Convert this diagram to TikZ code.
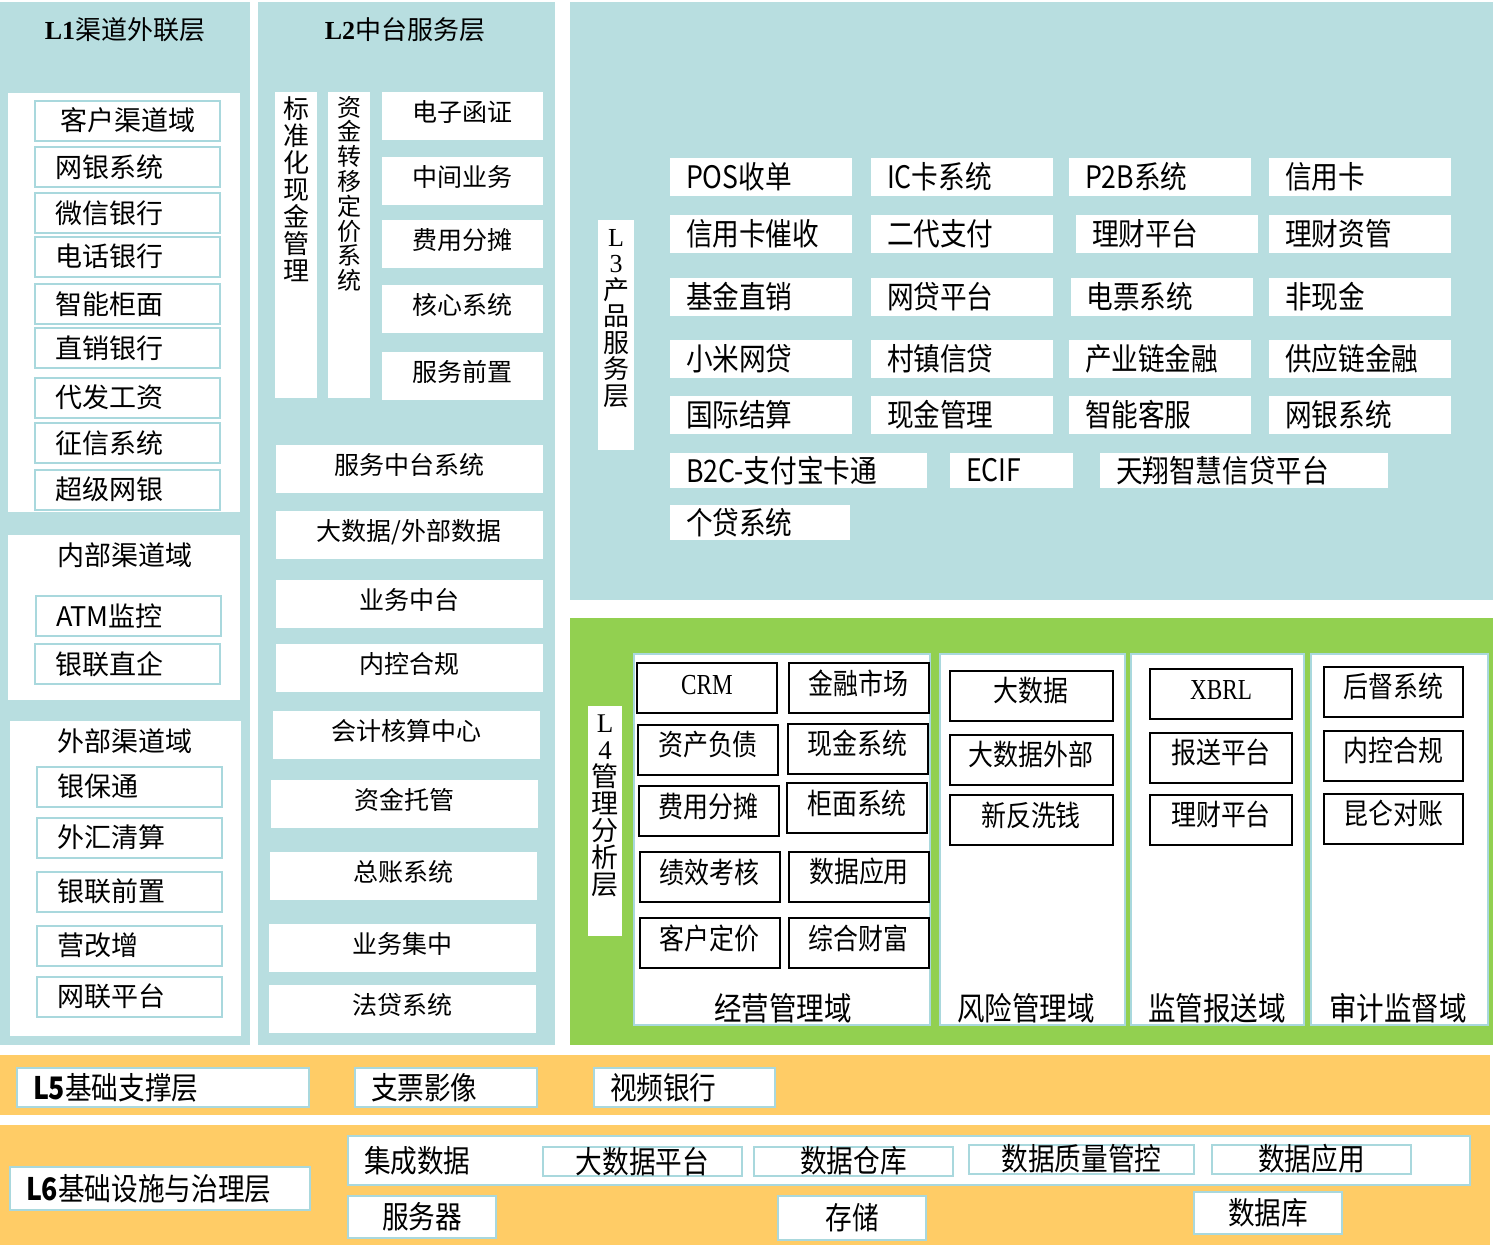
\documentclass[tikz,border=0pt]{standalone}
\usepackage{fontspec}
\setmainfont{Noto Sans CJK SC}
\newfontfamily\tnr{Liberation Serif}
\newfontfamily\tnrn[FakeStretch=0.8]{Liberation Serif}
\newfontfamily\nar[FakeStretch=0.86]{Noto Sans CJK SC}
\usepackage{tikz}

\definecolor{tealbg}{HTML}{B8DEE0}
\definecolor{tealln}{HTML}{A9D8DD}
\definecolor{grn}{HTML}{92D050}
\definecolor{org}{HTML}{FFCC66}

\newcommand{\fsz}[1]{\fontsize{#1}{#1}\selectfont}

\tikzset{
    chbox/.style={fill=white, draw=tealln, line width=2pt, inner xsep=20pt, inner ysep=0pt,
        minimum height=40pt, text width=145pt, align=left, font=\fsz{27}},
    ttl/.style={inner sep=0pt, font=\fsz{26}},
    l2box/.style={fill=white, inner sep=0pt, minimum height=48pt, text height=20pt, text depth=9pt, font=\fsz{25}},
    vbar/.style={fill=white, inner sep=0pt},
    vtxt/.style={inner sep=0pt, align=center, text width=30pt},
    pbox/.style={fill=white, inner xsep=16pt, inner ysep=0pt, minimum height=38pt, text width=#1, align=left, font=\nar\fsz{31}},
    pbox/.default=150pt,
    dom/.style={fill=white, draw=tealln, line width=2.5pt, inner sep=0pt, minimum height=371pt},
    domlab/.style={inner sep=0pt, font=\nar\fsz{32}},
    mbox/.style={fill=white, draw=black, line width=2pt, inner sep=0pt, minimum height=50pt,
        text height=24pt, text depth=12pt, font=\nar\fsz{29}},
    bbox/.style={fill=white, draw=tealln, line width=2pt, inner xsep=16pt, inner ysep=0pt,
        minimum height=39pt, text width=#1, align=left, font=\nar\fsz{31}},
    ibox/.style={fill=white, draw=tealln, line width=2pt, inner sep=0pt, minimum height=29pt, font=\nar\fsz{31}},
    sbox/.style={fill=white, draw=tealln, line width=2pt, inner sep=0pt, minimum width=148pt, minimum height=42pt, font=\nar\fsz{31}}
}

\begin{document}
\begin{tikzpicture}[x=1pt, y=-1pt]
    \useasboundingbox (0,0) rectangle (1495,1245);
    \fill[white] (0,0) rectangle (1495,1245);

    % layer panels
    \fill[tealbg] (0,2) rectangle (250,1045);
    \fill[tealbg] (258,2) rectangle (555,1045);
    \fill[tealbg] (570,2) rectangle (1493,600);
    \fill[grn] (570,618) rectangle (1493,1045);
    \fill[org] (0,1055) rectangle (1490,1115);
    \fill[org] (0,1125) rectangle (1490,1245);

    % L1
    \node[ttl] (l1) at (125,30) {{\tnr\bfseries L1}渠道外联层};
    \fill[white] (8,93) rectangle (240,512);
    \node[chbox, align=center] (khqd) at (127.5,120.5) {客户渠道域};
    \foreach [count=\i] \t/\y in {网银系统/167, 微信银行/213, 电话银行/256.5, 智能柜面/304,
        直销银行/348, 代发工资/397.5, 征信系统/443, 超级网银/489.5}
        \node[chbox] (kh\i) at (127.5,\y) {\t};

    \fill[white] (8,535) rectangle (240,700);
    \node[ttl, font=\fsz{27}] (nbqd) at (125,555) {内部渠道域};
    \node[chbox] (nb1) at (128.5,616) {ATM监控};
    \node[chbox] (nb2) at (127.5,664) {银联直企};

    \fill[white] (10,721) rectangle (241,1036);
    \node[ttl, font=\fsz{27}] (wbqd) at (125,741) {外部渠道域};
    \foreach [count=\i] \t/\y in {银保通/786.5, 外汇清算/837.5, 银联前置/891.5, 营改增/945.5, 网联平台/996.5}
        \node[chbox] (wb\i) at (129.5,\y) {\t};

    % L2
    \node[ttl] (l2) at (405,30) {{\tnr\bfseries L2}中台服务层};
    \node[vbar, minimum width=42pt, minimum height=306pt] (bzh) at (296,245) {};
    \node[vtxt, anchor=north, font=\fontsize{26}{27}\selectfont] (bzh-t) at ([yshift=-5pt]bzh.north)
        {标\\准\\化\\现\\金\\管\\理};
    \node[vbar, minimum width=42pt, minimum height=306pt] (zjzy) at (349,245) {};
    \node[vtxt, anchor=north, font=\fontsize{24}{24.8}\selectfont] (zjzy-t) at ([yshift=-4pt]zjzy.north)
        {资\\金\\转\\移\\定\\价\\系\\统};
    \foreach [count=\i] \t/\y in {电子函证/115.5, 中间业务/180.5, 费用分摊/244, 核心系统/309, 服务前置/376}
        \node[l2box, minimum width=161pt] (zt\i) at (462.5,\y) {\t};
    \foreach [count=\i] \t/\x/\y in {服务中台系统/409.5/469, {大数据/外部数据}/409/535, 业务中台/409.5/604,
        内控合规/409.5/668, 会计核算中心/406/735, 资金托管/404/804, 总账系统/403/876,
        业务集中/402/948, 法贷系统/402/1009}
        \node[l2box, minimum width=267pt] (zx\i) at (\x,\y) {\t};

    % L3
    \node[vbar, minimum width=36pt, minimum height=230pt] (l3) at (616,335) {};
    \node[vtxt, anchor=north, font=\fontsize{26}{26.5}\selectfont] (l3-t) at ([yshift=-9pt]l3.north)
        {{\tnr L}\\{\tnr 3}\\产\\品\\服\\务\\层};
    \foreach [count=\i] \t/\x/\y in {POS收单/761/177, IC卡系统/962/177, P2B系统/1160/177, 信用卡/1360/177,
        信用卡催收/761/234, 二代支付/962/234, 理财平台/1167/234, 理财资管/1360/234,
        基金直销/761/296.5, 网贷平台/962/296.5, 电票系统/1161.5/296.5, 非现金/1360/296.5,
        小米网贷/761/358.5, 村镇信贷/962/358.5, 产业链金融/1160/358.5, 供应链金融/1360/358.5,
        国际结算/761/415, 现金管理/962/415, 智能客服/1160/415, 网银系统/1360/415}
        \node[pbox] (cp\i) at (\x,\y) {\t};
    \node[pbox=225pt, minimum height=35pt] (b2c) at (798.5,470.5) {B2C-支付宝卡通};
    \node[pbox=91pt, minimum height=35pt] (ecif) at (1011.5,470.5) {ECIF};
    \node[pbox=256pt, minimum height=35pt] (txzh) at (1244,470.5) {天翔智慧信贷平台};
    \node[pbox=148pt, minimum height=35pt] (gd) at (760,522.5) {个贷系统};

    % L4
    \node[vbar, minimum width=34pt, minimum height=230pt] (l4) at (605,821) {};
    \node[vtxt, anchor=north, font=\fontsize{27}{27}\selectfont] (l4-t) at ([yshift=-9pt]l4.north)
        {{\tnr L}\\{\tnr 4}\\管\\理\\分\\析\\层};
    \node[dom, minimum width=296pt] (jy) at (782,839.5) {};
    \node[dom, minimum width=185pt] (fx) at (1032.5,839.5) {};
    \node[dom, minimum width=173pt] (jg) at (1217.5,839.5) {};
    \node[dom, minimum width=177pt] (sj) at (1399.5,839.5) {};
    \node[domlab] (jy-t) at (783,1008) {经营管理域};
    \node[domlab] (fx-t) at (1026,1008) {风险管理域};
    \node[domlab] (jg-t) at (1217,1008) {监管报送域};
    \node[domlab] (sj-t) at (1398,1008) {审计监督域};

    \foreach [count=\i] \t/\x/\y in {{\tnrn CRM}/707/688, 资产负债/708/749.5, 费用分摊/708.5/811,
        绩效考核/709.5/877, 客户定价/709.5/943}
        \node[mbox, minimum width=140pt] (jya\i) at (\x,\y) {\t};
    \foreach [count=\i] \t/\x/\y in {金融市场/858.5/688, 现金系统/857.5/748.5, 柜面系统/857/808,
        数据应用/859/876.5, 综合财富/858.5/943}
        \node[mbox, minimum width=140pt] (jyb\i) at (\x,\y) {\t};
    \foreach [count=\i] \t/\y in {大数据/695.5, 大数据外部/759.5, 新反洗钱/820}
        \node[mbox, minimum width=163pt] (fx\i) at (1031,\y) {\t};
    \foreach [count=\i] \t/\y in {{\tnrn XBRL}/693.5, 报送平台/757.5, 理财平台/819.5}
        \node[mbox, minimum width=142pt] (jg\i) at (1221,\y) {\t};
    \foreach [count=\i] \t/\y in {后督系统/691.5, 内控合规/755.5, 昆仑对账/818.5}
        \node[mbox, minimum width=139pt] (sj\i) at (1393.5,\y) {\t};

    % L5
    \node[bbox=260pt] (l5) at (163,1087.5) {{\bfseries L5}基础支撑层};
    \node[bbox=150pt] (zpyx) at (446,1087.5) {支票影像};
    \node[bbox=149pt] (spyh) at (684.5,1087.5) {视频银行};

    % L6
    \node[bbox=268pt, minimum height=43pt] (l6) at (160,1188.5) {{\bfseries L6}基础设施与治理层};
    \node[bbox=1090pt, minimum height=49pt, inner xsep=16pt] (jcsj) at (909,1160.5) {集成数据};
    \node[ibox, minimum width=199pt] (dsjpt) at (642.5,1161.5) {大数据平台};
    \node[ibox, minimum width=199pt] (sjck) at (853.5,1161) {数据仓库};
    \node[ibox, minimum width=225pt] (sjzl) at (1081.5,1159) {数据质量管控};
    \node[ibox, minimum width=199pt] (sjyy) at (1311.5,1159) {数据应用};
    \node[sbox] (fwq) at (422,1217) {服务器};
    \node[sbox, minimum height=44pt] (cc) at (852,1218) {存储};
    \node[sbox] (sjk) at (1268,1213) {数据库};
\end{tikzpicture}
\end{document}
